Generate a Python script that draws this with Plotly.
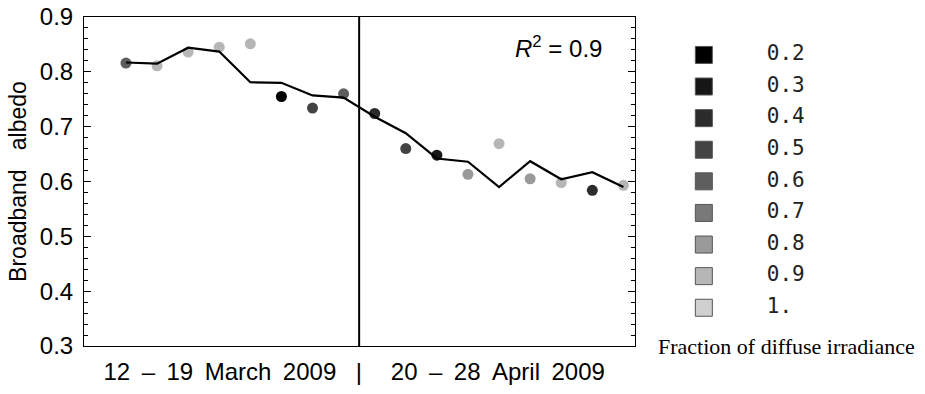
import plotly.graph_objects as go

# observation index (17 days in two campaigns)
day_index = list(range(1, 18))
albedo_obs = [0.816, 0.811, 0.836, 0.845, 0.851, 0.755, 0.734, 0.760,
              0.724, 0.660, 0.648, 0.613, 0.669, 0.605, 0.598, 0.584, 0.593]
albedo_model = [0.817, 0.815, 0.844, 0.837, 0.781, 0.780, 0.757, 0.753,
                0.718, 0.688, 0.642, 0.636, 0.590, 0.637, 0.604, 0.617, 0.590]
diffuse_frac = [0.6, 0.9, 0.9, 0.9, 0.9, 0.2, 0.5, 0.6,
                0.4, 0.5, 0.3, 0.8, 0.9, 0.8, 0.9, 0.4, 0.9]

legend_levels = [0.2, 0.3, 0.4, 0.5, 0.6, 0.7, 0.8, 0.9, 1.0]
legend_labels = ["0.2", "0.3", "0.4", "0.5", "0.6", "0.7", "0.8", "0.9", "1."]
legend_greys = ["#000000", "#161616", "#2b2b2b", "#434343", "#5e5e5e",
                "#797979", "#9a9a9a", "#b6b6b6", "#d0d0d0"]

split_at = 8.5
period_ticks = [4.02, 8.49, 12.96]
nb = "\u00a0"
gap = " \u2009"  # slightly wider word gap, as in the original
period_labels = [
    gap.join(["12", "\u2013", "19", "March", "2009"]),
    "|",
    gap.join(["20", "\u2013", "28", "April", "2009"]),
]

grey_of = dict(zip(legend_levels, legend_greys))
dot_colors = [grey_of[f] for f in diffuse_frac]

fig = go.Figure()

fig.add_trace(go.Scatter(
    x=day_index, y=albedo_obs, mode="markers",
    marker=dict(size=11, color=dot_colors, line=dict(width=0)),
    showlegend=False,
))
fig.add_trace(go.Scatter(
    x=day_index, y=albedo_model, mode="lines",
    line=dict(color="black", width=2.2),
    showlegend=False,
))

# colour key drawn in its own hidden axes
fig.add_trace(go.Scatter(
    x=[0] * len(legend_levels), y=legend_levels, mode="markers",
    marker=dict(symbol="square", size=17, color=legend_greys,
                line=dict(color="#555555", width=1)),
    xaxis="x2", yaxis="y2", showlegend=False,
))
fig.add_trace(go.Scatter(
    x=[1] * len(legend_levels), y=legend_levels, mode="text",
    text=legend_labels, textposition="middle right",
    textfont=dict(family="DejaVu Sans Mono", size=21, color="#222222"),
    xaxis="x2", yaxis="y2", showlegend=False,
))

fig.add_shape(type="line", x0=split_at, x1=split_at, y0=0, y1=1,
              xref="x", yref="paper", line=dict(color="black", width=2))

fig.add_annotation(
    x=14.9, y=0.846, xref="x", yref="y",
    text="<i>R</i><sup>2</sup> = 0.9", showarrow=False,
    font=dict(family="Liberation Sans", size=24, color="black"),
)
fig.add_annotation(
    x=0.997, y=0.0, xref="paper", yref="paper",
    xanchor="right", yanchor="middle",
    text="Fraction of diffuse irradiance", showarrow=False,
    font=dict(family="Liberation Serif", size=22, color="black"),
)

fig.update_layout(
    width=925, height=394,
    margin=dict(l=84, r=5, t=17, b=48),
    plot_bgcolor="white", paper_bgcolor="white",
    font=dict(family="Liberation Sans", color="black"),
    xaxis=dict(
        domain=[0, 0.659], range=[-0.35, 17.37], automargin=False,
        showline=True, linecolor="black", linewidth=1, mirror=True,
        showgrid=False, zeroline=False, ticks="",
        tickvals=period_ticks, ticktext=period_labels,
        tickfont=dict(size=24), ticklabelstandoff=4,
    ),
    yaxis=dict(
        range=[0.3, 0.9], dtick=0.1, tickformat=".1f", automargin=False,
        showline=True, linecolor="black", linewidth=1, mirror="ticks",
        showgrid=False, zeroline=False,
        ticks="inside", ticklen=7, tickcolor="black",
        minor=dict(dtick=0.02, ticks="inside", ticklen=4, tickcolor="black"),
        tickfont=dict(size=24), ticklabelstandoff=5,
        title=dict(text=f"Broadband{nb}{nb} albedo", font=dict(size=23), standoff=6),
    ),
    xaxis2=dict(domain=[0.66, 1.0], range=[-1.08, 3.43], visible=False),
    yaxis2=dict(range=[1.121, 0.08], visible=False, anchor="x2"),
)

# drop the default page margin so the figure sits at the window's corner
fig.write_html(
    "out.html",
    config={"displayModeBar": False},
    post_script="document.body.style.margin = '0';",
)
